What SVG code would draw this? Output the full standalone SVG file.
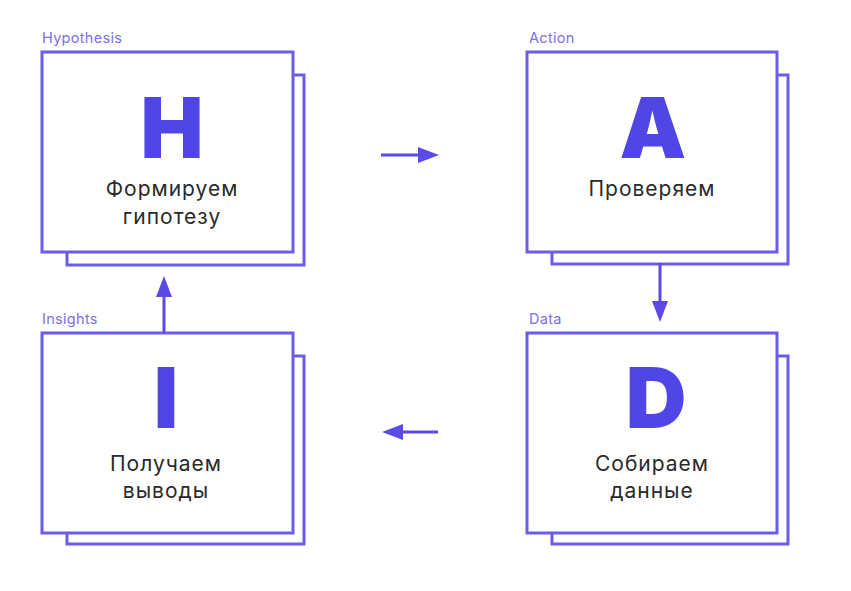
<svg xmlns="http://www.w3.org/2000/svg" width="851" height="591" viewBox="0 0 851 591">
<style>
.card{fill:#fff;stroke:#6b5ce7;stroke-width:3}
.lbl{font-family:Inter,"Noto Sans",sans-serif;font-size:14.5px;fill:#7d70e6;letter-spacing:0.3px}
.big{font-family:Inter,"Noto Sans",sans-serif;font-size:84px;font-weight:900;fill:#5046e5;text-anchor:middle}
.txt{font-family:Inter,"Noto Sans",sans-serif;font-size:21px;fill:#2a2a2a;text-anchor:middle;letter-spacing:1px}
.conn{stroke:#5a4ae6;stroke-width:3;fill:none}
.head{fill:#5a4ae6}
</style>
<rect width="851" height="591" fill="#fff"/>
<g id="node-h">
<rect class="card" x="67" y="75" width="237" height="190"/>
<rect class="card" x="42" y="52" width="251" height="200"/>
<text class="lbl" x="42" y="43">Hypothesis</text>
<text class="big" x="172" y="158">H</text>
<text class="txt" x="172" y="196">Формируем</text>
<text class="txt" x="172" y="224">гипотезу</text>
</g>
<g id="node-a">
<rect class="card" x="552" y="75" width="236" height="189"/>
<rect class="card" x="527" y="52" width="250" height="200"/>
<text class="lbl" x="529" y="43">Action</text>
<text class="big" x="653" y="158">A</text>
<text class="txt" x="652" y="196">Проверяем</text>
</g>
<g id="node-d">
<rect class="card" x="552" y="356" width="236" height="188"/>
<rect class="card" x="527" y="333" width="250" height="200"/>
<text class="lbl" x="529" y="324">Data</text>
<text class="big" x="656" y="428">D</text>
<text class="txt" x="652" y="471">Собираем</text>
<text class="txt" x="652" y="498">данные</text>
</g>
<g id="node-i">
<rect class="card" x="67" y="356" width="237" height="188"/>
<rect class="card" x="42" y="333" width="251" height="200"/>
<text class="lbl" x="42" y="324">Insights</text>
<text class="big" x="166" y="428">I</text>
<text class="txt" x="166" y="471">Получаем</text>
<text class="txt" x="166" y="498">выводы</text>
</g>
<g id="connectors">
<line class="conn" x1="381" y1="155" x2="422" y2="155"/>
<polygon class="head" points="439,155 418,147 418,163"/>
<line class="conn" x1="660" y1="263" x2="660" y2="305"/>
<polygon class="head" points="660,322 652,301 668,301"/>
<line class="conn" x1="438" y1="432" x2="398" y2="432"/>
<polygon class="head" points="382,432 403,424 403,440"/>
<line class="conn" x1="164" y1="333" x2="164" y2="294"/>
<polygon class="head" points="164,276 156,297 172,297"/>
</g>
</svg>
